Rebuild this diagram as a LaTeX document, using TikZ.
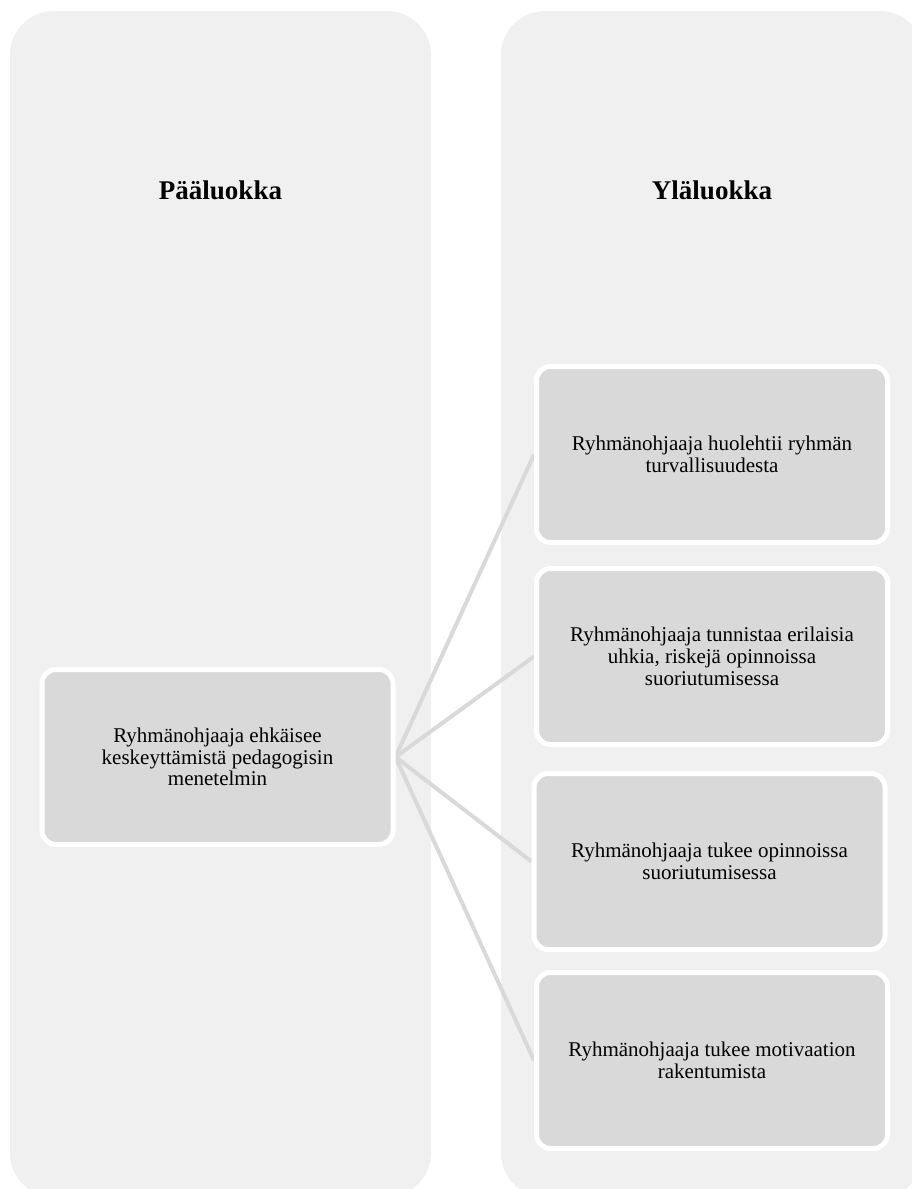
\documentclass[tikz,border=0pt]{standalone}
\usepackage{fontspec}
\setmainfont{Liberation Serif}
\definecolor{colfill}{HTML}{F0F0F0}
\definecolor{boxfill}{HTML}{D9D9D9}
\definecolor{linkgray}{HTML}{D9D9D9}
\pgfdeclarelayer{lanes}
\pgfdeclarelayer{links}
\pgfsetlayers{lanes,links,main}
\begin{document}
\begin{tikzpicture}[x=1pt,y=-1pt,
  lane/.style={fill=colfill, rounded corners=44pt},
  item/.style={draw=white, line width=5pt, fill=boxfill, rounded corners=14pt,
    minimum width=351pt, minimum height=176pt, align=center, inner sep=0pt,
    font=\fontsize{21}{21.7}\selectfont},
  link/.style={draw=linkgray, line width=4pt},
  header/.style={font=\fontsize{27}{30}\selectfont\bfseries, anchor=base, inner sep=0pt}]
\useasboundingbox (0,0) rectangle (912,1189);
\clip (0,0) rectangle (912,1189);

% two background lanes
\begin{pgfonlayer}{lanes}
\fill[lane] (10,11) rectangle (431,1197);
\fill[lane] (501,11) rectangle (924,1197);
\end{pgfonlayer}

\node[header] (hleft) at (220.5,199) {Pääluokka};
\node[header] (hright) at (712,199) {Yläluokka};

% boxes
\node[item, minimum height=175pt] (main) at (217.5,757)
  {Ryhmänohjaaja ehkäisee\\keskeyttämistä pedagogisin\\menetelmin};
\node[item] (s1) at (712,454.5)
  {Ryhmänohjaaja huolehtii ryhmän\\turvallisuudesta};
\node[item] (s2) at (712,656.5)
  {Ryhmänohjaaja tunnistaa erilaisia\\uhkia, riskejä opinnoissa\\suoriutumisessa};
\node[item] (s3) at (709.5,861.5)
  {Ryhmänohjaaja tukee opinnoissa\\suoriutumisessa};
\node[item] (s4) at (712,1060.5)
  {Ryhmänohjaaja tukee motivaation\\rakentumista};

% connectors, kept under the boxes
\begin{pgfonlayer}{links}
\foreach \t in {s1,s2,s3,s4}
  \draw[link] (main.east) -- (\t.west);
\end{pgfonlayer}
\end{tikzpicture}
\end{document}
